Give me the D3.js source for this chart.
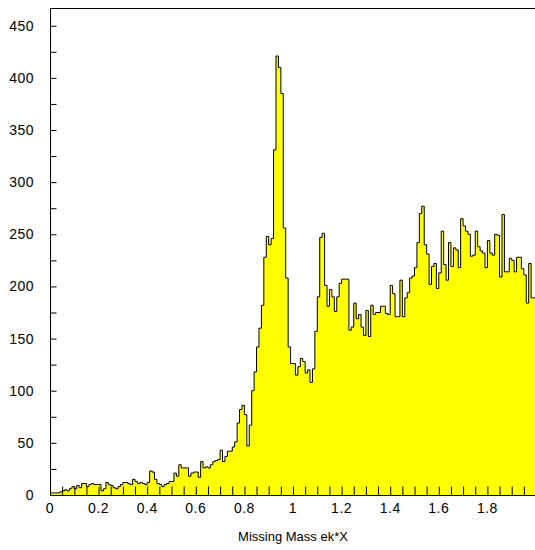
<!DOCTYPE html>
<html>
<head>
<meta charset="utf-8">
<script src="https://cdn.jsdelivr.net/npm/d3@7"></script>
<style>
body { margin: 0; background: #fff; }
svg text { font-family: 'Liberation Sans', Arial, sans-serif; fill: #000; }
</style>
</head>
<body>
<script>
// histogram of missing mass, 200 bins of 0.01 from 0 to 2
var binLow = 0
var binWidth = 0.01
var counts = [
  2, 2, 2, 2, 3, 4, 5, 4, 6, 8,
  6, 9, 7, 11, 11, 8, 10, 11, 10, 10,
  10, 4, 6, 12, 10, 9, 7, 6, 8, 10,
  12, 12, 11, 10, 15, 13, 11, 12, 11, 10,
  12, 23, 22, 15, 11, 10, 8, 10, 11, 13,
  13, 21, 18, 29, 26, 26, 26, 18, 21, 22,
  22, 17, 32, 26, 27, 26, 29, 32, 33, 34,
  43, 32, 37, 42, 42, 46, 51, 69, 82, 86,
  77, 47, 67, 100, 118, 142, 160, 182, 228, 248,
  240, 246, 331, 421, 410, 385, 256, 208, 142, 126,
  126, 115, 123, 131, 128, 117, 120, 108, 121, 157,
  190, 247, 251, 201, 181, 197, 190, 176, 190, 203,
  207, 207, 207, 158, 161, 184, 169, 173, 161, 153,
  177, 152, 182, 173, 175, 175, 181, 181, 174, 173,
  201, 193, 171, 171, 206, 171, 189, 194, 208, 210,
  218, 242, 270, 277, 240, 231, 202, 219, 222, 198,
  213, 253, 221, 206, 242, 219, 237, 235, 218, 265,
  258, 253, 250, 229, 230, 253, 238, 234, 232, 218,
  244, 232, 230, 250, 249, 209, 269, 214, 214, 227,
  225, 214, 228, 228, 217, 211, 184, 222, 189, 189
]
var xTickLabels = [0, 0.2, 0.4, 0.6, 0.8, 1, 1.2, 1.4, 1.6, 1.8]
var yTickLabels = [0, 50, 100, 150, 200, 250, 300, 350, 400, 450]
var xTitle = 'Missing Mass ek*X'

var width = 535
var height = 550
var plot = { left: 50, right: 536, top: 8, bottom: 495 }

var x = d3.scaleLinear()
    .domain([0, 2])
    .range([plot.left, plot.right])

var y = d3.scaleLinear()
    .domain([0, 467])
    .range([plot.bottom, plot.top])

var bins = counts.map(function (c, i) {
    return { x0: binLow + i * binWidth, value: c }
})
// closing point so the last step reaches the bin's upper edge
bins.push({ x0: binLow + counts.length * binWidth, value: counts[counts.length - 1] })

var svg = d3.select('body')
    .append('svg')
    .attr('width', width)
    .attr('height', height)

var area = d3.area()
    .curve(d3.curveStepAfter)
    .x(function (d) { return x(d.x0) })
    .y0(y(0))
    .y1(function (d) { return y(d.value) })

var line = d3.line()
    .curve(d3.curveStepAfter)
    .x(function (d) { return x(d.x0) })
    .y(function (d) { return y(d.value) })

svg.append('path')
    .datum(bins)
    .attr('d', area)
    .attr('fill', '#ffff00')

svg.append('path')
    .datum(bins)
    .attr('d', line)
    .attr('fill', 'none')
    .attr('stroke', '#000')
    .attr('stroke-width', 1)

// x axis, ticks pointing inward
var xAxis = d3.axisTop(x)
    .tickValues(d3.range(0, 2.0001, 0.05))
    .tickSize(9)
    .tickFormat('')

svg.append('g')
    .attr('transform', 'translate(0,' + (plot.bottom + 0.5) + ')')
    .call(xAxis)
    .call(function (g) { g.select('.domain').remove() })

svg.append('g')
    .selectAll('text')
    .data(xTickLabels)
    .enter().append('text')
    .attr('x', function (d) { return x(d) })
    .attr('y', plot.bottom + 18)
    .attr('text-anchor', 'middle')
    .style('font-size', '14px')
    .style('letter-spacing', '0.5px')
    .text(function (d) { return d })

// y axis
var yAxis = d3.axisRight(y)
    .tickValues(d3.range(0, 451, 25))
    .tickSize(6)
    .tickFormat('')

svg.append('g')
    .attr('transform', 'translate(' + (plot.left + 0.5) + ',0)')
    .call(yAxis)
    .call(function (g) { g.select('.domain').remove() })

svg.append('g')
    .selectAll('text')
    .data(yTickLabels)
    .enter().append('text')
    .attr('x', 34)
    .attr('y', function (d) { return y(d) + 5 })
    .attr('text-anchor', 'end')
    .style('font-size', '14px')
    .style('letter-spacing', '0.5px')
    .text(function (d) { return d })

svg.append('rect')
    .attr('x', plot.left + 0.5)
    .attr('y', plot.top + 0.5)
    .attr('width', plot.right - plot.left)
    .attr('height', plot.bottom - plot.top)
    .attr('fill', 'none')
    .attr('stroke', '#000')

svg.append('text')
    .attr('x', (plot.left + plot.right) / 2)
    .attr('y', 541)
    .attr('text-anchor', 'middle')
    .style('font-size', '13px')
    .text(xTitle)
</script>
</body>
</html>
